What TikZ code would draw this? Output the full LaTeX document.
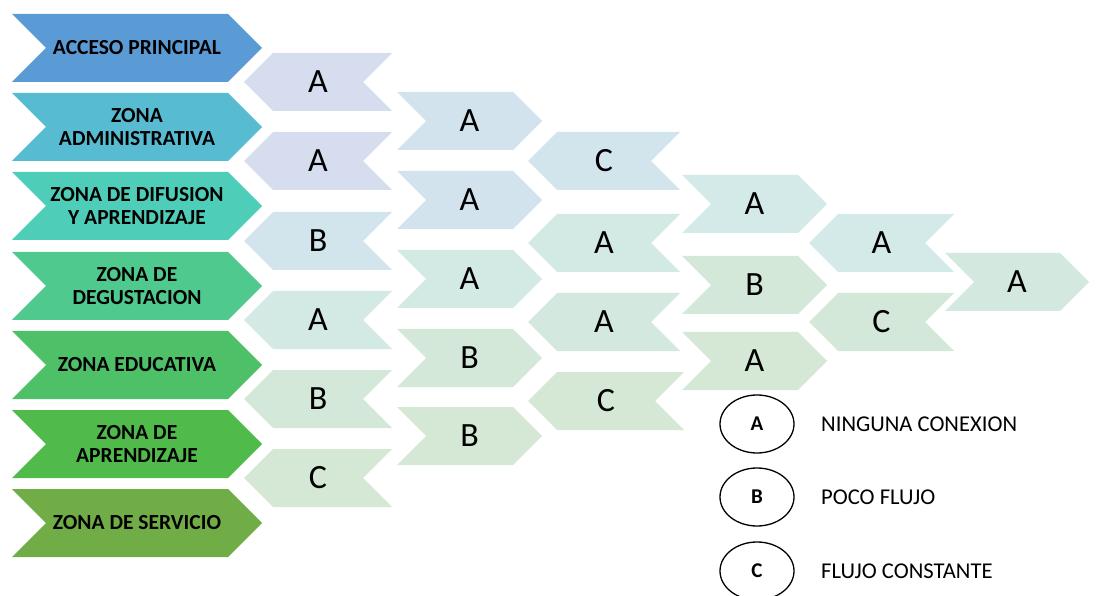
\documentclass[tikz,border=0pt]{standalone}
\usepackage{fontspec}
\setmainfont{Carlito}
\usetikzlibrary{shapes.geometric}
\definecolor{z1}{HTML}{5B9BD5}
\definecolor{z2}{HTML}{57BCD1}
\definecolor{z3}{HTML}{4ECDB8}
\definecolor{z4}{HTML}{4FC98E}
\definecolor{z5}{HTML}{4EC067}
\definecolor{z6}{HTML}{50BA4B}
\definecolor{z7}{HTML}{71AD47}
\definecolor{lb1}{HTML}{D5DDEE}
\definecolor{lb2}{HTML}{D2E3EE}
\definecolor{lb3}{HTML}{D2E4EC}
\definecolor{lt1}{HTML}{D3EAE8}
\definecolor{lt2}{HTML}{D3E9E3}
\definecolor{lt3}{HTML}{D3E8DE}
\definecolor{lg1}{HTML}{D4E8DA}
\definecolor{lg2}{HTML}{D5E8D6}
\tikzset{
  lbl/.style={font=\fontsize{34}{36}\selectfont, inner sep=0pt, text=black},
  zlbl/.style={font=\bfseries\fontsize{21.5}{23.5}\selectfont, align=center, inner sep=0pt, text=black},
  legell/.style={draw=black, line width=1.3pt, ellipse, minimum width=74pt, minimum height=58pt, inner sep=0pt, font=\bfseries\fontsize{21}{22}\selectfont},
  legtxt/.style={anchor=west, inner sep=0pt, font=\fontsize{22.6}{24}\selectfont},
}
% right-pointing chevron: name, L, R, C, H, color, style, text
\newcommand\chevR[8]{%
  \fill[#6] (#2,#4-#5) -- (#3-#5,#4-#5) -- (#3,#4) -- (#3-#5,#4+#5) -- (#2,#4+#5) -- (#2+#5,#4) -- cycle;
  \node[#7] (#1) at ({(#2+#3)/2},#4) {#8};}
% left-pointing chevron
\newcommand\chevL[8]{%
  \fill[#6] (#2,#4) -- (#2+#5,#4-#5) -- (#3,#4-#5) -- (#3-#5,#4) -- (#3,#4+#5) -- (#2+#5,#4+#5) -- cycle;
  \node[#7] (#1) at ({(#2+#3)/2},#4) {#8};}
\begin{document}
\begin{tikzpicture}[x=1pt,y=-1pt]
\useasboundingbox (0,0) rectangle (1096,596);
% column 1
\chevR{acc}{12}{262}{48}{34}{z1}{zlbl}{ACCESO PRINCIPAL}
\chevR{adm}{12}{262}{127}{34}{z2}{zlbl}{ZONA\\ADMINISTRATIVA}
\chevR{dif}{12}{262}{206}{34}{z3}{zlbl}{ZONA DE DIFUSION\\Y APRENDIZAJE}
\chevR{deg}{12}{262}{286}{34}{z4}{zlbl}{ZONA DE\\DEGUSTACION}
\chevR{edu}{12}{262}{365}{34}{z5}{zlbl}{ZONA EDUCATIVA}
\chevR{apr}{12}{262}{444}{34}{z6}{zlbl}{ZONA DE\\APRENDIZAJE}
\chevR{ser}{12}{262}{523}{34}{z7}{zlbl}{ZONA DE SERVICIO}
% column 2
\chevL{b1}{244}{392}{82}{29}{lb1}{lbl}{A}
\chevL{b2}{244}{392}{161}{29}{lb1}{lbl}{A}
\chevL{b3}{244}{392}{241}{29}{lb3}{lbl}{B}
\chevL{b4}{244}{392}{320}{29}{lt2}{lbl}{A}
\chevL{b5}{244}{392}{399}{29}{lg1}{lbl}{B}
\chevL{b6}{244}{392}{478}{29}{lg2}{lbl}{C}
% column 3
\chevR{c1}{397}{542}{121}{29}{lb2}{lbl}{A}
\chevR{c2}{397}{542}{200}{29}{lb2}{lbl}{A}
\chevR{c3}{397}{542}{279}{29}{lt2}{lbl}{A}
\chevR{c4}{397}{542}{358}{29}{lg1}{lbl}{B}
\chevR{c5}{397}{542}{436}{29}{lg2}{lbl}{B}
% column 4
\chevL{d1}{528}{680}{161}{29}{lb3}{lbl}{C}
\chevL{d2}{528}{680}{243}{29}{lt2}{lbl}{A}
\chevL{d3}{528}{680}{322}{29}{lt3}{lbl}{A}
\chevL{d4}{528}{684}{401}{29}{lg2}{lbl}{C}
% column 5
\chevR{e1}{682}{827}{204}{29}{lt1}{lbl}{A}
\chevR{e2}{682}{827}{285}{29}{lg1}{lbl}{B}
\chevR{e3}{682}{827}{361}{29}{lg2}{lbl}{A}
% column 6
\chevL{f1}{809}{954}{243}{29}{lt1}{lbl}{A}
\chevL{f2}{809}{954}{322}{29}{lg1}{lbl}{C}
% column 7
\chevR{g1}{945}{1089}{282}{29}{lt3}{lbl}{A}
% legend
\node[legell] (la) at (757,424) {A};
\node[legell] (lbb) at (757,497) {B};
\node[legell] (lc) at (757,571) {C};
\node[legtxt] (ta) at (821,424) {NINGUNA CONEXION};
\node[legtxt] (tb) at (821,497) {POCO FLUJO};
\node[legtxt] (tc) at (821,571) {FLUJO CONSTANTE};
\end{tikzpicture}
\end{document}
